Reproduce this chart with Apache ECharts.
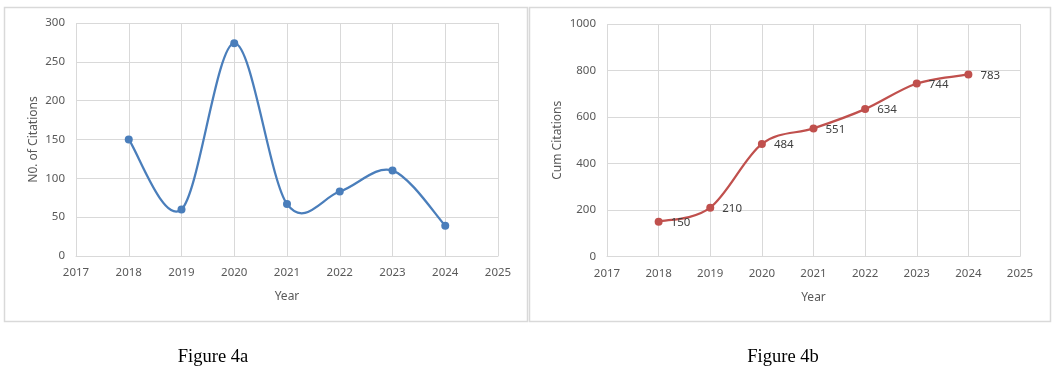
<!DOCTYPE html>
<html><head><meta charset="utf-8">
<script src="https://cdn.jsdelivr.net/npm/echarts@6/dist/echarts.min.js"></script>
<style>html,body{margin:0;padding:0;background:#fff}#c{width:1056px;height:384px}</style>
</head><body><div id="c"></div>
<script>
const years = [2018, 2019, 2020, 2021, 2022, 2023, 2024];
const citations = [150, 60, 274, 67, 83, 110, 39];
const cumCitations = [150, 210, 484, 551, 634, 744, 783];
const xTicks = [2017, 2018, 2019, 2020, 2021, 2022, 2023, 2024, 2025];
const captions = ['Figure 4a', 'Figure 4b'];

const FONT = '"Noto Sans", sans-serif';
const GRAY = '#595959';
const GRID = '#d9d9d9';
const BLUE = '#4a7ebb';
const RED = '#c0504d';

function xAxis(gi){
  return {
    gridIndex: gi, type: 'value', min: xTicks[0], max: xTicks[xTicks.length-1], interval: 1,
    name: 'Year', nameLocation: 'middle', nameGap: 35,
    nameTextStyle: {color: GRAY, fontFamily: FONT, fontSize: 12},
    axisLine: {show: true, lineStyle: {color: GRID, width: 1}},
    axisTick: {show: false},
    axisLabel: {color: GRAY, fontFamily: FONT, fontSize: 11.5, margin: 11, formatter: v => String(v)},
    splitLine: {show: true, lineStyle: {color: GRID, width: 1}}
  };
}
function yAxis(gi, max, interval, name, gap){
  return {
    gridIndex: gi, type: 'value', min: 0, max: max, interval: interval,
    name: name, nameLocation: 'middle', nameRotate: 90, nameGap: gap,
    nameTextStyle: {color: GRAY, fontFamily: FONT, fontSize: 12},
    axisLine: {show: false}, axisTick: {show: false},
    axisLabel: {color: GRAY, fontFamily: FONT, fontSize: 11.5, margin: 11, formatter: v => String(v)},
    splitLine: {show: true, lineStyle: {color: GRID, width: 1}}
  };
}

// Smooth curve (Excel-style, Catmull-Rom 1/6 tangents) drawn through the axis scales
function curveSeries(gi, vals, color){
  return {
    type: 'custom', xAxisIndex: gi, yAxisIndex: gi, silent: true, z: 2,
    data: years.map((y, i) => [y, vals[i]]),
    encode: {x: 0, y: 1},
    renderItem: function(params, api){
      const i = params.dataIndex;
      const n = years.length;
      if (i >= n - 1) return null;
      const P = k => { k = Math.max(0, Math.min(n - 1, k)); return api.coord([years[k], vals[k]]); };
      const p0 = P(i - 1), p1 = P(i), p2 = P(i + 1), p3 = P(i + 2);
      const c1 = [p1[0] + (p2[0] - p0[0]) / 6, p1[1] + (p2[1] - p0[1]) / 6];
      const c2 = [p2[0] - (p3[0] - p1[0]) / 6, p2[1] - (p3[1] - p1[1]) / 6];
      return {
        type: 'bezierCurve',
        shape: {x1: p1[0], y1: p1[1], cpx1: c1[0], cpy1: c1[1], cpx2: c2[0], cpy2: c2[1], x2: p2[0], y2: p2[1]},
        style: {stroke: color, lineWidth: 2.25, fill: null, lineCap: 'round'}
      };
    }
  };
}

const chart = echarts.init(document.getElementById('c'), null, {renderer: 'canvas'});
chart.setOption({
  animation: false,
  backgroundColor: '#fff',
  title: [
    {text: captions[0], left: 208, top: 343, textAlign: 'center',
     textStyle: {fontFamily: '"Liberation Serif", serif', fontSize: 18.5, fontWeight: 'normal', color: '#000'}},
    {text: captions[1], left: 778, top: 343, textAlign: 'center',
     textStyle: {fontFamily: '"Liberation Serif", serif', fontSize: 18.5, fontWeight: 'normal', color: '#000'}}
  ],
  graphic: [
    {type: 'rect', shape: {x: 4.5, y: 7.5, width: 523, height: 314}, style: {fill: 'none', stroke: GRID, lineWidth: 1.5}, z: -1},
    {type: 'rect', shape: {x: 529.5, y: 7.5, width: 521, height: 314}, style: {fill: 'none', stroke: GRID, lineWidth: 1.5}, z: -1}
  ],
  grid: [
    {left: 76, top: 23, width: 422, height: 233},
    {left: 607, top: 24, width: 413, height: 232.5}
  ],
  xAxis: [xAxis(0), xAxis(1)],
  yAxis: [yAxis(0, 300, 50, 'N0. of Citations', 36), yAxis(1, 1000, 200, 'Cum Citations', 43)],
  series: [
    curveSeries(0, citations, BLUE),
    {type: 'scatter', xAxisIndex: 0, yAxisIndex: 0, z: 3,
     data: years.map((y, i) => [y, citations[i]]),
     symbol: 'circle', symbolSize: 8, itemStyle: {color: BLUE, opacity: 1}},
    curveSeries(1, cumCitations, RED),
    {type: 'scatter', xAxisIndex: 1, yAxisIndex: 1, z: 3,
     data: years.map((y, i) => [y, cumCitations[i]]),
     symbol: 'circle', symbolSize: 8, itemStyle: {color: RED, opacity: 1},
     label: {show: true, position: 'right', distance: 8, offset: [0, 1],
       color: '#404040', fontFamily: FONT, fontSize: 11.5,
       formatter: p => String(p.value[1])}}
  ]
});
</script></body></html>
